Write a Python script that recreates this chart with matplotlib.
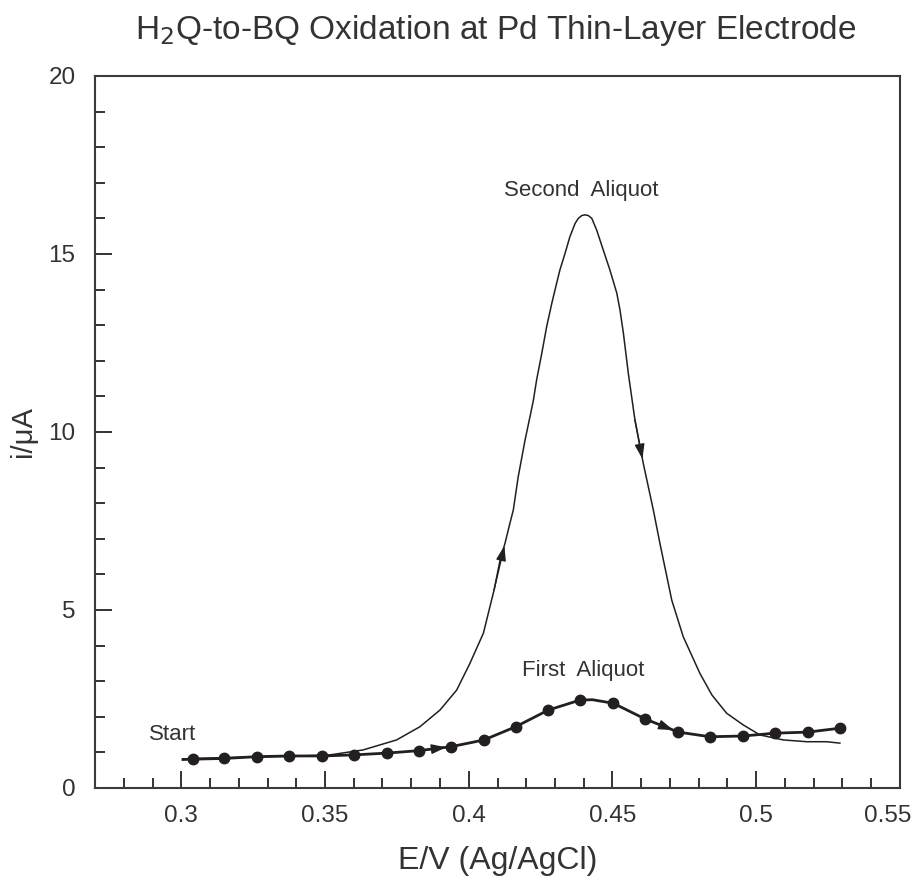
import matplotlib
matplotlib.use("Agg")
import matplotlib.pyplot as plt
import matplotlib.transforms as mtransforms
from matplotlib.ticker import MultipleLocator

plt.rcParams['font.family'] = ['Liberation Sans', 'DejaVu Sans']

# First aliquot: sampled points (E in V vs Ag/AgCl, i in microamps)
first_E = [0.3006, 0.3040, 0.3150, 0.3262, 0.3376, 0.3491, 0.3601, 0.3715,
           0.3827, 0.3938, 0.4053, 0.4163, 0.4277, 0.4387, 0.4430, 0.4503,
           0.4613, 0.4729, 0.4839, 0.4953, 0.5065, 0.5179, 0.5291]
first_i = [0.80, 0.81, 0.83, 0.88, 0.90, 0.90, 0.93, 0.98,
           1.05, 1.16, 1.35, 1.72, 2.19, 2.47, 2.48, 2.38,
           1.94, 1.57, 1.44, 1.46, 1.54, 1.57, 1.68]
# which of the first-aliquot points carry a marker
first_marked = [False] + [True] * 13 + [False] + [True] * 8

# Second aliquot: continuous trace
second_E = [0.3006, 0.3239, 0.3413, 0.3517, 0.3633, 0.3749, 0.3830, 0.3900,
            0.3958, 0.4004, 0.4051, 0.4088, 0.4109, 0.4126, 0.4143, 0.4155,
            0.4172, 0.4196, 0.4213, 0.4225, 0.4236, 0.4254, 0.4271, 0.4289,
            0.4300, 0.4317, 0.4335, 0.4352, 0.4370, 0.4381, 0.4393, 0.4404,
            0.4416, 0.4428, 0.4445, 0.4468, 0.4491, 0.4515, 0.4526, 0.4538,
            0.4555, 0.4578, 0.4607, 0.4642, 0.4665, 0.4689, 0.4706, 0.4746,
            0.4804, 0.4846, 0.4897, 0.4955, 0.5013, 0.5094, 0.5176, 0.5245,
            0.5291]
second_i = [0.82, 0.87, 0.90, 0.93, 1.07, 1.35, 1.72, 2.19,
            2.75, 3.50, 4.35, 5.56, 6.40, 6.87, 7.43, 7.81,
            8.74, 9.78, 10.43, 10.90, 11.46, 12.21, 12.96, 13.62,
            13.99, 14.55, 15.02, 15.49, 15.86, 16.00, 16.08, 16.10,
            16.08, 16.00, 15.67, 15.11, 14.55, 13.90, 13.43, 12.77,
            11.65, 10.34, 9.12, 7.81, 6.87, 5.94, 5.28, 4.25,
            3.22, 2.61, 2.10, 1.77, 1.49, 1.35, 1.30, 1.30,
            1.26]

x_ticks = [0.3, 0.35, 0.4, 0.45, 0.5, 0.55]
x_tick_labels = ["0.3", "0.35", "0.4", "0.45", "0.5", "0.55"]
y_ticks = [0, 5, 10, 15, 20]

ink = '#231f20'
text_col = '#333333'

fig = plt.figure(figsize=(9.2, 8.82), dpi=100)
ax = fig.add_axes([95 / 920, 1 - 788 / 882, 805 / 920, 712 / 882])

ax.plot(second_E, second_i, color=ink, lw=1.1, zorder=2)
ax.plot(first_E, first_i, color=ink, lw=2.0, zorder=3)
mE = [e for e, m in zip(first_E, first_marked) if m]
mI = [v for v, m in zip(first_i, first_marked) if m]
ax.plot(mE, mI, 'o', color=ink, ms=7.5, zorder=4)


# direction arrows placed along the traces
def arrow_on(E, I, k0, k1, frac=0.6):
    x0, y0 = E[k0], I[k0]
    x1 = E[k0] + (E[k1] - E[k0]) * frac
    y1 = I[k0] + (I[k1] - I[k0]) * frac
    ax.annotate('', xy=(x1, y1), xytext=(x0, y0),
                arrowprops=dict(arrowstyle='-|>,head_length=0.9,head_width=0.3',
                                color=ink, lw=1.0, shrinkA=0, shrinkB=0),
                zorder=5)


arrow_on(second_E, second_i, 11, 13, 0.95)
arrow_on(second_E, second_i, 41, 42, 0.9)
arrow_on(first_E, first_i, 8, 9, 0.85)
arrow_on(first_E, first_i, 16, 17, 0.85)

ax.text(0.2971, 1.5, 'Start', ha='center', va='center', fontsize=16, color=text_col)
ax.text(0.4391, 16.77, 'Second  Aliquot', ha='center', va='center', fontsize=16, color=text_col)
ax.text(0.4398, 3.3, 'First  Aliquot', ha='center', va='center', fontsize=16, color=text_col)

ax.set_xlim(0.27, 0.55)
ax.set_ylim(0, 20)
ax.set_xticks(x_ticks, x_tick_labels)
ax.xaxis.set_minor_locator(MultipleLocator(0.01))
ax.set_yticks(y_ticks)
ax.yaxis.set_minor_locator(MultipleLocator(1))

ax.tick_params(which='both', direction='in', top=False, right=False,
               colors=text_col, width=1.4, labelsize=17.5, labelcolor=text_col)
ax.tick_params(which='major', length=12, pad=12)
ax.tick_params(which='minor', length=7.5)
ax.tick_params(axis='y', which='major', pad=14)

# keep the last x tick label inside the figure edge
last_lbl = ax.get_xticklabels()[-1]
last_lbl.set_transform(last_lbl.get_transform() +
                       mtransforms.ScaledTranslation(-12 / 100, 0, fig.dpi_scale_trans))

for s in ax.spines.values():
    s.set_color('#3a3a3a')
    s.set_linewidth(1.5)

ax.set_xlabel('E/V (Ag/AgCl)', fontsize=23, color=text_col, labelpad=14)
ax.set_ylabel('i/μA', fontsize=21, color=text_col, labelpad=8)
fig.text(496 / 920, 1 - 30 / 882, 'H$_2$Q-to-BQ Oxidation at Pd Thin-Layer Electrode',
         ha='center', va='center', fontsize=24, color=text_col)

fig.savefig('out.png', dpi=100, facecolor='white')
